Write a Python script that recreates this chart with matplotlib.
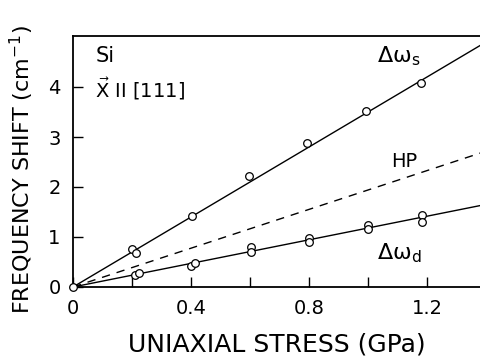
import numpy as np
import matplotlib
matplotlib.use('Agg')
import matplotlib.pyplot as plt
from matplotlib.ticker import FixedLocator

# data
stress_s = [0.0, 0.20, 0.214, 0.403, 0.597, 0.793, 0.993, 1.18]
shift_s = [0.0, 0.76, 0.68, 1.42, 2.22, 2.88, 3.52, 4.08]
stress_d = [0.21, 0.224, 0.40, 0.414, 0.603, 0.603, 0.80, 0.80, 1.0, 1.0, 1.183, 1.183]
shift_d = [0.24, 0.28, 0.42, 0.48, 0.80, 0.70, 0.98, 0.90, 1.24, 1.16, 1.44, 1.30]
fit_x = [0.0, 1.383]
slope_s, slope_hp, slope_d = 3.5, 1.94, 1.18

xlabels = ['0', '0.4', '0.8', '1.2']
xmajor = [0.0, 0.4, 0.8, 1.2]
xminor = [0.2, 0.6, 1.0]
yticks = [0, 1, 2, 3, 4]

plt.rcParams['font.family'] = ['DejaVu Sans']
fig = plt.figure(figsize=(4.81, 3.6), dpi=100)
ax = fig.add_axes([73/481, 73/360, 1 - 73/481, 251/360])

fx = np.array(fit_x)
ax.plot(fx, slope_s*fx, color='k', lw=1.0)
ax.plot(fx, slope_hp*fx, color='k', lw=1.0, ls=(0, (6, 5)))
ax.plot(fx, slope_d*fx, color='k', lw=1.0)
ax.plot(stress_s, shift_s, 'o', mfc='white', mec='k', ms=5.5, mew=0.9, zorder=3, clip_on=False)
ax.plot(stress_d, shift_d, 'o', mfc='white', mec='k', ms=5.5, mew=0.9, zorder=3, clip_on=False)

ax.set_xlim(0, 1.383)
ax.set_ylim(0, 5.02)
ax.spines['right'].set_visible(False)
for s in ['left', 'bottom', 'top']:
    ax.spines[s].set_linewidth(1.3)

ax.xaxis.set_major_locator(FixedLocator(xmajor))
ax.xaxis.set_minor_locator(FixedLocator(xminor))
ax.set_xticklabels(xlabels)
ax.set_yticks(yticks)
ax.tick_params(which='both', direction='in', length=7, width=1.0, labelsize=14,
               top=False, right=False)
ax.tick_params(axis='x', pad=9)
ax.tick_params(axis='y', pad=9)

ax.set_xlabel('UNIAXIAL STRESS (GPa)', fontsize=18, labelpad=10)
ax.set_ylabel('FREQUENCY SHIFT (cm$^{-1}$)', fontsize=16)
ax.yaxis.set_label_coords(-0.09, 0.47)

ax.text(0.075, 4.5, 'Si', fontsize=15)
ax.text(0.075, 3.8, r'$\vec{\mathrm{X}}$ II [111]', fontsize=14)
ax.text(1.03, 4.5, r'$\mathregular{\Delta\omega_s}$', fontsize=16)
ax.text(1.08, 2.4, 'HP', fontsize=14)
ax.text(1.03, 0.55, r'$\mathregular{\Delta\omega_d}$', fontsize=16)

fig.savefig('out.png', dpi=100)
